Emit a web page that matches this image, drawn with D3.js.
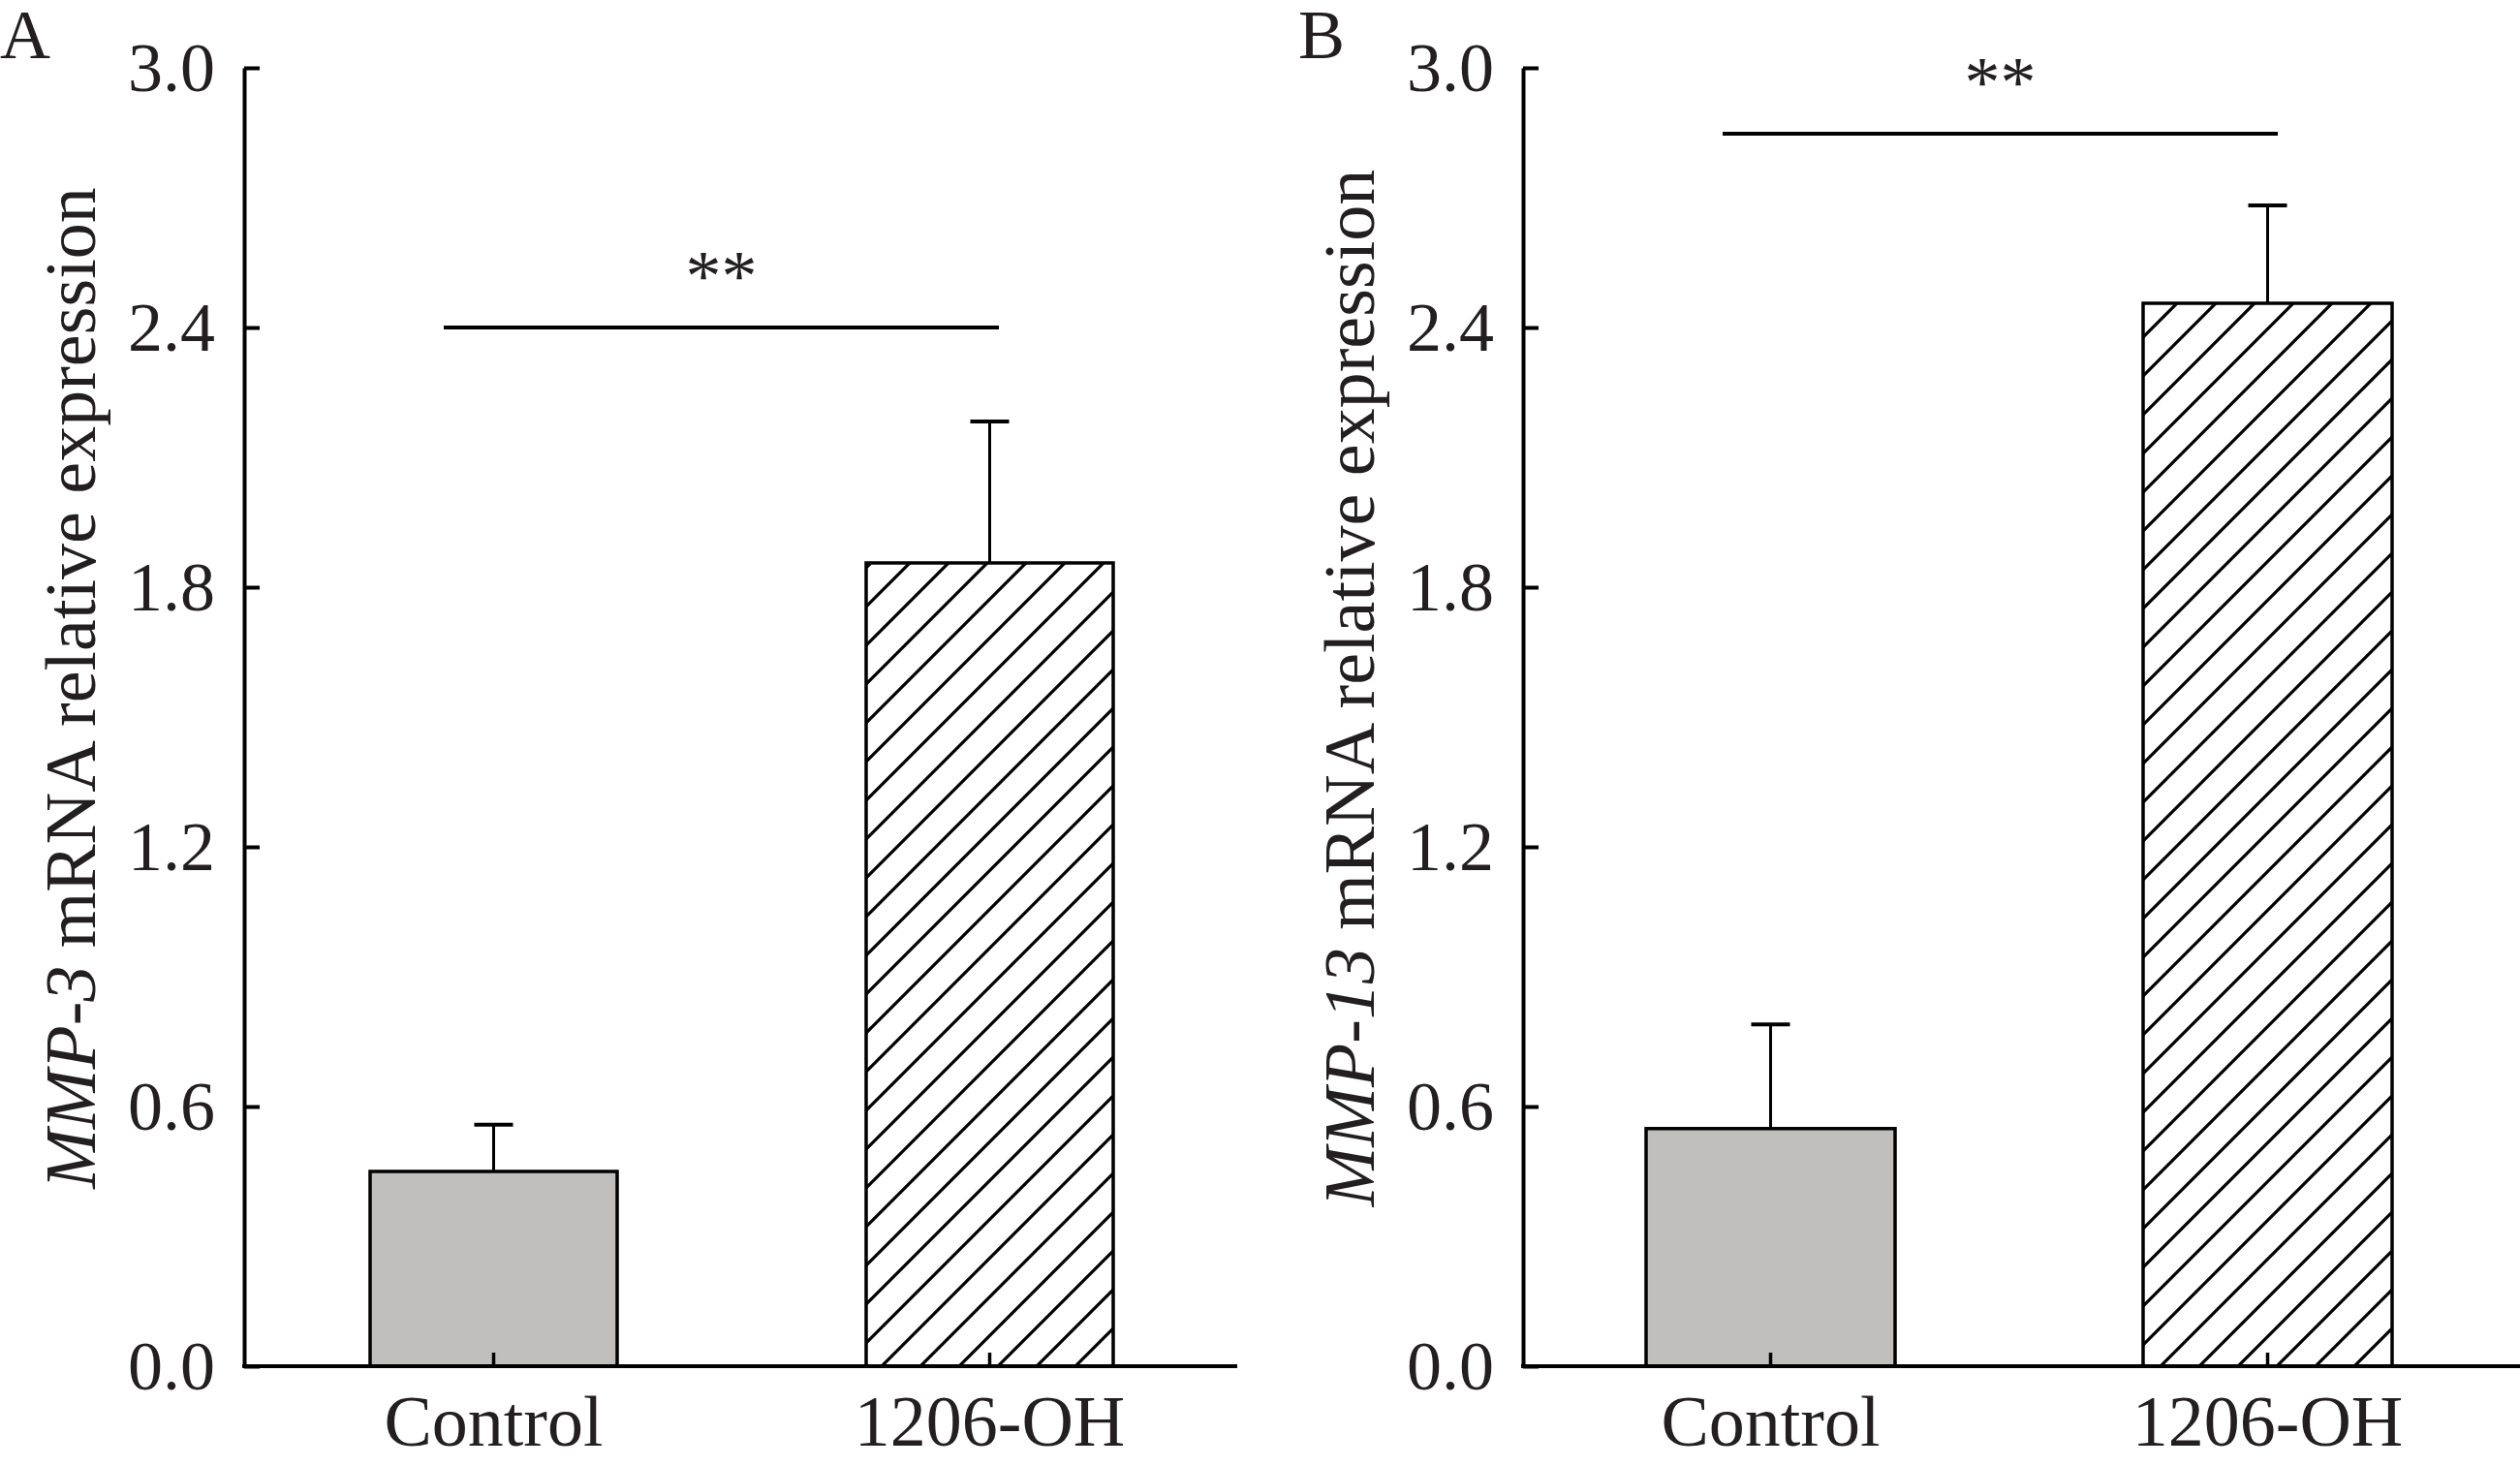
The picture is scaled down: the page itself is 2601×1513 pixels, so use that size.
<!DOCTYPE html>
<html lang="en">
<head>
<meta charset="UTF-8">
<title>MMP expression</title>
<script src="https://d3js.org/d3.v7.min.js"></script>
<style>
  body { margin: 0; background: #fff; }
  text { font-family: "Liberation Serif", "Times New Roman", serif; fill: #231f20; }
</style>
</head>
<body>
<svg width="2601" height="1513"></svg>
<script>
const categories = ["Control", "1206-OH"];
const yTicks = [0, 0.6, 1.2, 1.8, 2.4, 3.0];
const mmp3Means = [0.45, 1.856];
const mmp3Errors = [0.108, 0.327];
const mmp13Means = [0.549, 2.456];
const mmp13Errors = [0.241, 0.226];
const sigLevels = [2.4, 2.848];
const panelLabels = ["A", "B"];
const geneNames = ["MMP-3", "MMP-13"];

const svg = d3.select("svg");

// hatch pattern for treated bars
const defs = svg.append("defs");
const pat = defs.append("pattern")
  .attr("id", "hatch").attr("patternUnits", "userSpaceOnUse")
  .attr("width", 40).attr("height", 40);
pat.append("path")
  .attr("d", "M-10,50 L50,-10 M-10,10 L10,-10 M30,50 L50,30")
  .attr("stroke", "#000").attr("stroke-width", 3.2);

const panels = [
  { x0: 252, xEnd: 1277, bars: [[382, 637], [894, 1149]], means: mmp3Means, errs: mmp3Errors,
    sig: sigLevels[0], sigX: [458, 1031], label: panelLabels[0], labelX: 0, gene: geneNames[0], titleX: 98 },
  { x0: 1572, xEnd: 2601, bars: [[1699, 1956], [2212, 2469]], means: mmp13Means, errs: mmp13Errors,
    sig: sigLevels[1], sigX: [1778, 2351], label: panelLabels[1], labelX: 1340, gene: geneNames[1], titleX: 1418 }
];

const y = d3.scaleLinear().domain([0, 3]).range([1410, 70]);

panels.forEach(p => {
  const g = svg.append("g");
  const gap = p.bars[1][0] - p.bars[0][1];
  const x = d3.scaleBand().domain(categories)
    .range([p.bars[0][0] - gap / 2, p.bars[1][1] + gap / 2]).paddingInner(0).paddingOuter(0);
  const bw = p.bars[0][1] - p.bars[0][0];
  const cx = c => x(c) + x.bandwidth() / 2;

  categories.forEach((c, i) => {
    g.append("rect")
      .attr("x", cx(c) - bw / 2).attr("width", bw)
      .attr("y", y(p.means[i])).attr("height", y(0) - y(p.means[i]))
      .attr("fill", i === 0 ? "#c0bfbd" : "url(#hatch)")
      .attr("stroke", "#000").attr("stroke-width", 3.5);
    // error bar
    g.append("line").attr("x1", cx(c)).attr("x2", cx(c))
      .attr("y1", y(p.means[i])).attr("y2", y(p.means[i] + p.errs[i]))
      .attr("stroke", "#000").attr("stroke-width", 3);
    g.append("line").attr("x1", cx(c) - 20).attr("x2", cx(c) + 20)
      .attr("y1", y(p.means[i] + p.errs[i])).attr("y2", y(p.means[i] + p.errs[i]))
      .attr("stroke", "#000").attr("stroke-width", 4);
    // x tick (inward)
    g.append("line").attr("x1", cx(c)).attr("x2", cx(c))
      .attr("y1", y(0)).attr("y2", y(0) - 14)
      .attr("stroke", "#000").attr("stroke-width", 3.5);
    g.append("text").attr("x", cx(c)).attr("y", 1492)
      .attr("text-anchor", "middle").attr("font-size", 74).text(c);
  });

  // axes
  g.append("line").attr("x1", p.x0 - 2).attr("x2", p.xEnd).attr("y1", y(0)).attr("y2", y(0))
    .attr("stroke", "#000").attr("stroke-width", 4);
  const yAxis = d3.axisLeft(y).tickValues(yTicks).tickFormat(d3.format(".1f"))
    .tickSizeInner(-16).tickSizeOuter(0).tickPadding(30);
  const ya = g.append("g").attr("transform", `translate(${p.x0},0)`).call(yAxis);
  ya.select(".domain").attr("stroke", "#000").attr("stroke-width", 4);
  ya.selectAll(".tick line").attr("stroke", "#000").attr("stroke-width", 4);
  ya.selectAll(".tick text").attr("font-size", 72).attr("font-family", "Liberation Serif").attr("fill", "#231f20");

  // significance
  g.append("line").attr("x1", p.sigX[0]).attr("x2", p.sigX[1])
    .attr("y1", y(p.sig)).attr("y2", y(p.sig)).attr("stroke", "#000").attr("stroke-width", 4);
  g.append("text").attr("x", (p.sigX[0] + p.sigX[1]) / 2).attr("y", y(p.sig) - 28)
    .attr("text-anchor", "middle").attr("font-size", 74).text("**");

  // panel label
  g.append("text").attr("x", p.labelX).attr("y", 60).attr("font-size", 72).text(p.label);

  // y title
  const t = g.append("text").attr("transform", `translate(${p.titleX},${y(1.5) - 30}) rotate(-90)`)
    .attr("text-anchor", "middle").attr("font-size", 74);
  t.append("tspan").attr("font-style", "italic").text(p.gene);
  t.append("tspan").text(" mRNA relative expression");
});
</script>
</body>
</html>
